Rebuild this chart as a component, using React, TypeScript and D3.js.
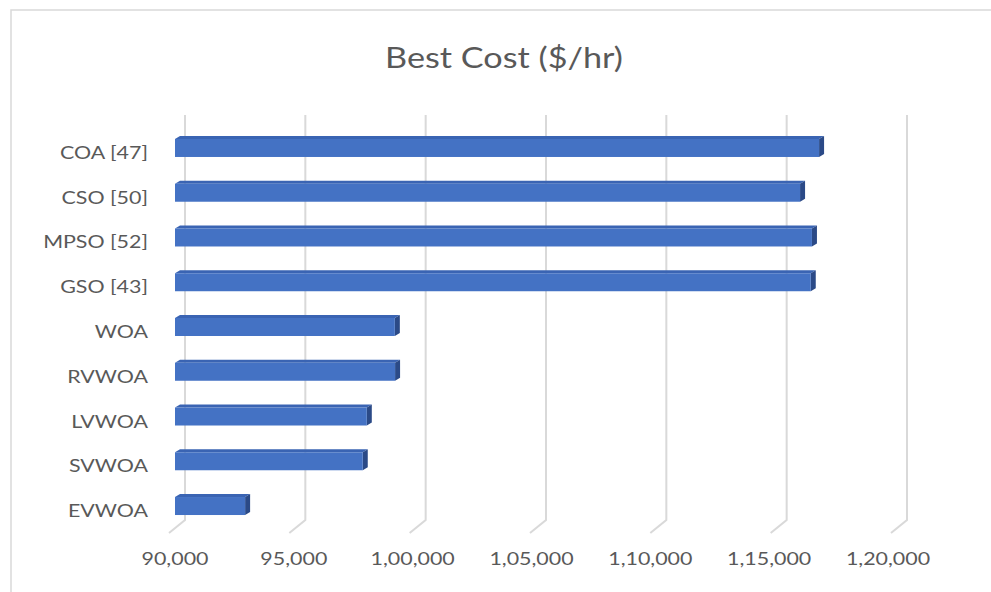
import React from "react";
import * as d3 from "d3";

const categories = ["COA [47]", "CSO [50]", "MPSO [52]", "GSO [43]", "WOA", "RVWOA", "LVWOA", "SVWOA", "EVWOA"];
const values = [117100, 116300, 116800, 116750, 99250, 99260, 98070, 97900, 92950];
const ticks = [90000, 95000, 100000, 105000, 110000, 115000, 120000];
const tickLabels = ["90,000", "95,000", "1,00,000", "1,05,000", "1,10,000", "1,15,000", "1,20,000"];
const title = "Best Cost ($/hr)";

const W = 991;
const H = 592;
const FONT = "Lato, 'Open Sans', sans-serif";
const TXT = "#595959";
const SX_LABEL = 1.19;
const SX_TITLE = 1.2;

export default function App() {
  const xFront = d3.scaleLinear().domain([90000, 120000]).range([175, 888]);
  const xBack = d3.scaleLinear().domain([90000, 120000]).range([185, 907]);
  const y = d3
    .scaleBand<string>()
    .domain(categories)
    .range([125.6, 528.4])
    .paddingInner(0.598)
    .paddingOuter(0.299);
  const bw = y.bandwidth();
  const dx = 5;
  const dy = 3;
  const gridTop = 115;
  const gridBottom = 520;
  const floorFront = 533;
  const floorShift = 16;

  return (
    <svg
      width={W}
      height={H}
      style={{ position: "absolute", left: 0, top: 0, background: "#fff" }}
    >
      <rect x={0} y={0} width={W} height={H} fill="#fff" />
      <rect x={11} y={10} width={W + 20} height={H + 20} fill="none" stroke="#d9d9d9" strokeWidth={1.5} />
      <text
        transform={`translate(504,68) scale(${SX_TITLE},1)`}
        textAnchor="middle"
        fontFamily={FONT}
        fontSize={28.5}
        fill={TXT}
      >
        {title}
      </text>
      {ticks.map((t) => (
        <path
          key={"g" + t}
          d={`M${xBack(t)},${gridTop}L${xBack(t)},${gridBottom}L${xBack(t) - floorShift},${floorFront}`}
          fill="none"
          stroke="#d9d9d9"
          strokeWidth={2}
        />
      ))}
      {ticks.map((t, i) => (
        <text
          key={"t" + t}
          transform={`translate(${xFront(t)},565) scale(${SX_LABEL},1)`}
          textAnchor="middle"
          fontFamily={FONT}
          fontSize={18}
          fill={TXT}
        >
          {tickLabels[i]}
        </text>
      ))}
      {categories.map((c, i) => {
        const y0 = y(c) as number;
        const x0 = xFront(90000);
        const x1 = xFront(values[i]);
        return (
          <g key={c}>
            <polygon
              points={`${x0},${y0} ${x0 + dx},${y0 - dy} ${x1 + dx},${y0 - dy} ${x1},${y0}`}
              fill="#3a64b3"
            />
            <polygon
              points={`${x1},${y0} ${x1 + dx},${y0 - dy} ${x1 + dx},${y0 + bw - dy} ${x1},${y0 + bw}`}
              fill="#2b4a87"
            />
            <rect x={x0} y={y0} width={x1 - x0} height={bw} fill="#4472c4" />
            <text
              transform={`translate(148,${y0 + bw / 2 + 11}) scale(${SX_LABEL},1)`}
              textAnchor="end"
              fontFamily={FONT}
              fontSize={18}
              fill={TXT}
            >
              {c}
            </text>
          </g>
        );
      })}
    </svg>
  );
}
